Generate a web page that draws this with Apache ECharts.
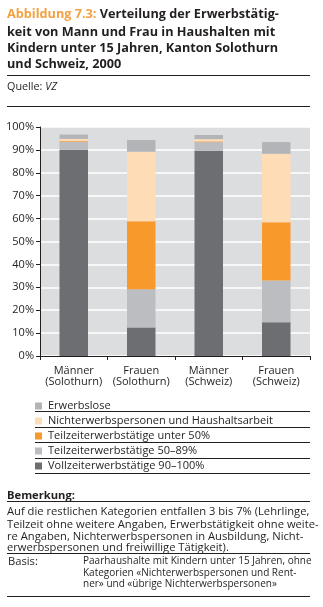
<!DOCTYPE html>
<html><head><meta charset="utf-8">
<script src="https://cdn.jsdelivr.net/npm/echarts@6/dist/echarts.min.js"></script>
<style>html,body{margin:0;padding:0;background:#fff}#c{width:323px;height:607px}</style>
</head><body><div id="c"></div>
<script>
const categories = ['Männer\n(Solothurn)', 'Frauen\n(Solothurn)', 'Männer\n(Schweiz)', 'Frauen\n(Schweiz)'];
const vollzeit = [90.0, 12.5, 89.6, 14.7];
const teilzeit5089 = [3.6, 16.6, 3.8, 18.3];
const teilzeitUnter50 = [0.3, 29.7, 0.3, 25.4];
const nichterwerb = [0.9, 30.4, 1.0, 29.9];
const erwerbslose = [1.9, 5.1, 1.8, 5.1];
const seriesNames = ['Vollzeiterwerbstätige 90–100%', 'Teilzeiterwerbstätige 50–89%', 'Teilzeiterwerbstätige unter 50%', 'Nichterwerbspersonen und Haushaltsarbeit', 'Erwerbslose'];
const yTicks = [0, 10, 20, 30, 40, 50, 60, 70, 80, 90, 100];

const colors = ['#6d6e71', '#bcbdc0', '#f7992b', '#fddcb6', '#b3b4b7'];
const values = [vollzeit, teilzeit5089, teilzeitUnter50, nichterwerb, erwerbslose];
const FONT = 'Open Sans';
const dark = '#231f20';
const BODY = 11.2;
const BASIS = 10;

const chart = echarts.init(document.getElementById('c'), null, {renderer: 'canvas'});

function rule(y, x1, x2) {
  return {type: 'line', shape: {x1: x1, y1: y, x2: x2, y2: y}, style: {stroke: dark, lineWidth: 1}};
}
function txt(x, y, text, size, weight, color, style) {
  return {type: 'text', x: x, y: y, style: {text: text, fontFamily: FONT, fontSize: size, fontWeight: weight || 'normal', fontStyle: style || 'normal', fill: color || dark, textVerticalAlign: 'middle'}};
}

const graphics = [
  {type: 'text', x: 7, y: 8, style: {rich: {o: {fill: '#f5a041', fontWeight: 'bold', fontSize: 12.7, fontFamily: FONT}, d: {fill: dark, fontWeight: 'bold', fontSize: 12.7, fontFamily: FONT}}, text: '{o|Abbildung 7.3:} {d|Verteilung der Erwerbstätig-}'}},
  txt(7, 32.5, 'keit von Mann und Frau in Haushalten mit', 12.7, 'bold'),
  txt(7, 48.5, 'Kindern unter 15 Jahren, Kanton Solothurn', 12.7, 'bold'),
  txt(7, 64, 'und Schweiz, 2000', 12.7, 'bold'),
  rule(75.5, 7, 310),
  {type: 'text', x: 7, y: 87, style: {rich: {a: {fontFamily: FONT, fontSize: 10.8, fill: dark}, b: {fontFamily: FONT, fontSize: 10.8, fill: dark, fontStyle: 'italic'}}, text: '{a|Quelle: }{b|VZ}', textVerticalAlign: 'middle'}},
  rule(106.5, 7, 310),
  rule(411.5, 35, 310), rule(427.5, 35, 310), rule(442.5, 35, 310), rule(458.5, 35, 310), rule(473.5, 35, 310),
  txt(7, 495.5, 'Bemerkung:', BODY, 'bold'),
  rule(501.5, 7, 310),
  txt(7, 512, 'Auf die restlichen Kategorien entfallen 3 bis 7% (Lehrlinge,', BODY),
  txt(7, 524.5, 'Teilzeit ohne weitere Angaben, Erwerbstätigkeit ohne weite-', BODY),
  txt(7, 536.5, 're Angaben, Nichterwerbspersonen in Ausbildung, Nicht-', BODY),
  txt(7, 548, 'erwerbspersonen und freiwillige Tätigkeit).', BODY),
  rule(553.5, 7, 310),
  txt(8, 561.5, 'Basis:', BODY),
  txt(83, 561.5, 'Paarhaushalte mit Kindern unter 15 Jahren, ohne', BASIS),
  txt(83, 573, 'Kategorien «Nichterwerbspersonen und Rent-', BASIS),
  txt(83, 584.5, 'ner» und «übrige Nichterwerbspersonen»', BASIS),
  rule(596.5, 7, 310)
];

chart.setOption({
  animation: false,
  textStyle: {fontFamily: FONT},
  grid: {left: 40, right: 13, top: 127, bottom: 251, show: true, backgroundColor: '#dcdddf', borderWidth: 0},
  legend: {
    orient: 'vertical', left: 30, top: 395.5, itemWidth: 7, itemHeight: 7, itemGap: 4, icon: 'rect',
    data: seriesNames.slice().reverse(),
    textStyle: {fontFamily: FONT, fontSize: 11, color: dark, padding: [0, 0, 0, 1]},
    selectedMode: false
  },
  xAxis: {
    type: 'category', data: categories,
    axisLine: {lineStyle: {color: dark, width: 1}},
    axisTick: {show: true, length: 4, lineStyle: {color: dark}},
    axisLabel: {interval: 0, fontFamily: FONT, fontSize: 11, color: dark, lineHeight: 11, margin: 9}
  },
  yAxis: {
    type: 'value', min: yTicks[0], max: yTicks[yTicks.length - 1], interval: 10,
    axisLine: {show: true, lineStyle: {color: dark, width: 1}},
    axisTick: {show: true, length: 4, lineStyle: {color: dark}},
    axisLabel: {fontFamily: FONT, fontSize: 11, color: dark, margin: 6, formatter: '{value}%'},
    splitLine: {show: true, lineStyle: {color: '#ffffff', width: 1.5}}
  },
  series: seriesNames.map((n, i) => ({
    name: n, type: 'bar', stack: 'total', data: values[i], barWidth: 28.5,
    itemStyle: {color: colors[i]}
  })),
  graphic: graphics
});
</script></body></html>
